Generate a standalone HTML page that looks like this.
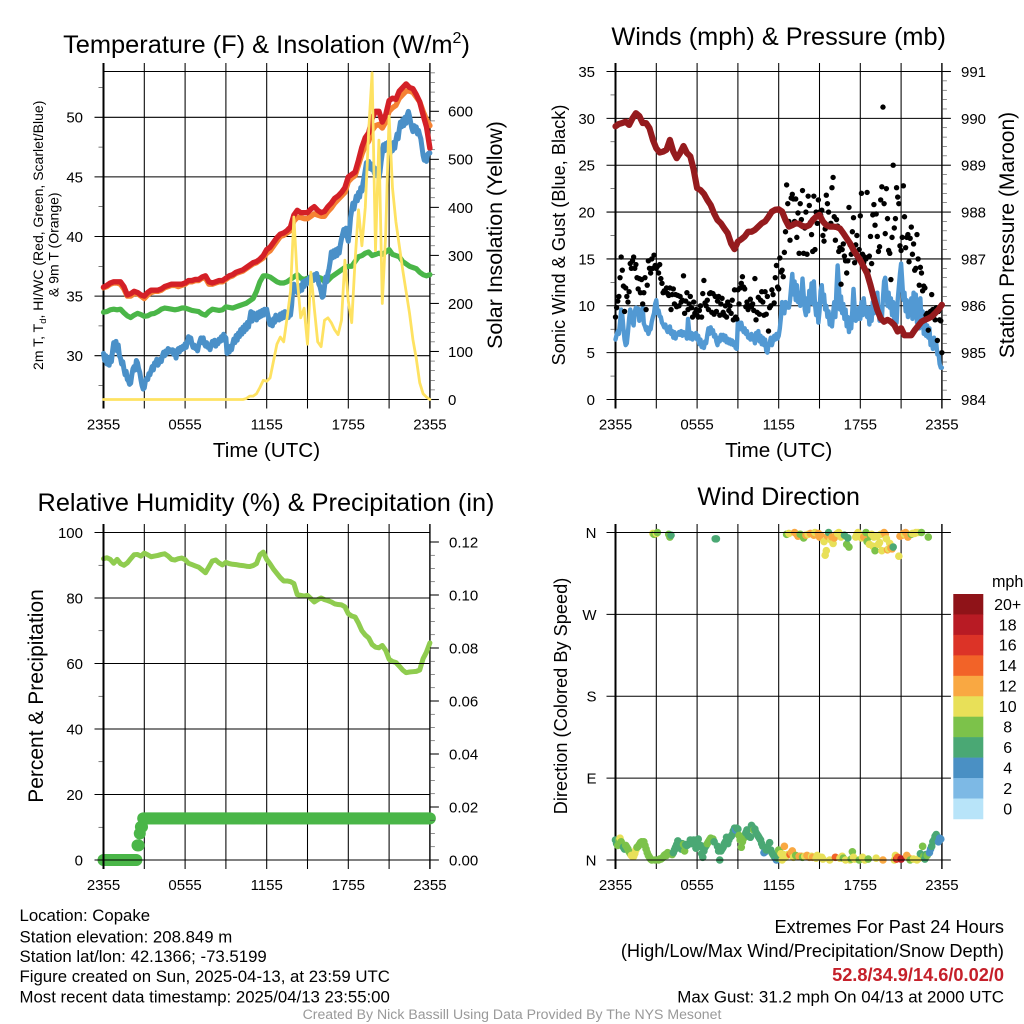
<!DOCTYPE html>
<html lang="en">
<head>
<meta charset="utf-8">
<title>Copake Mesonet Meteogram</title>
<style>
html,body{margin:0;padding:0;background:#fff;}
svg{display:block;font-family:"Liberation Sans",Arial,sans-serif;}
</style>
</head>
<body>
<svg id="chart" xmlns="http://www.w3.org/2000/svg" width="1024" height="1024" viewBox="0 0 1024 1024">
  <rect x="0" y="0" width="1024" height="1024" fill="#fff"/>
  <g id="layer"></g>

  <text x="266.5" y="53" font-size="25.4" text-anchor="middle">Temperature (F) &amp; Insolation (W/m<tspan dy="-10" font-size="16">2</tspan><tspan dy="10" font-size="25.4">)</tspan></text>
  <text x="778.7" y="45" font-size="25.3" text-anchor="middle">Winds (mph) &amp; Pressure (mb)</text>
  <text x="266" y="511" font-size="25.3" text-anchor="middle">Relative Humidity (%) &amp; Precipitation (in)</text>
  <text x="778.7" y="505" font-size="25" text-anchor="middle">Wind Direction</text>

  <text x="266.5" y="457" font-size="20.7" text-anchor="middle">Time (UTC)</text>
  <text x="778.7" y="457" font-size="20.7" text-anchor="middle">Time (UTC)</text>

  <text transform="translate(43,235.3) rotate(-90)" font-size="14" text-anchor="middle">2m T, T<tspan dy="3" font-size="9.5">d</tspan><tspan dy="-3">, HI/WC (Red, Green, Scarlet/Blue)</tspan></text>
  <text transform="translate(58.5,244.7) rotate(-90)" font-size="14" text-anchor="middle">&amp; 9m T (Orange)</text>
  <text transform="translate(502,235) rotate(-90)" font-size="21.3" text-anchor="middle">Solar Insolation (Yellow)</text>
  <text transform="translate(565,235) rotate(-90)" font-size="18.2" text-anchor="middle">Sonic Wind &amp; Gust (Blue, Black)</text>
  <text transform="translate(1014,235) rotate(-90)" font-size="21" text-anchor="middle">Station Pressure (Maroon)</text>
  <text transform="translate(43,696) rotate(-90)" font-size="21" text-anchor="middle">Percent &amp; Precipitation</text>
  <text transform="translate(567,696) rotate(-90)" font-size="18.2" text-anchor="middle">Direction (Colored By Speed)</text>

  <text x="19.5" y="921" font-size="16.8">Location: Copake</text>
  <text x="19.5" y="942.5" font-size="16.8">Station elevation: 208.849 m</text>
  <text x="19.5" y="962" font-size="16.8">Station lat/lon: 42.1366; -73.5199</text>
  <text x="19.5" y="982" font-size="16.8">Figure created on Sun, 2025-04-13, at 23:59 UTC</text>
  <text x="19.5" y="1002.5" font-size="16.8">Most recent data timestamp: 2025/04/13 23:55:00</text>

  <text x="1004" y="933" font-size="18.2" text-anchor="end">Extremes For Past 24 Hours</text>
  <text x="1004" y="957" font-size="18.2" text-anchor="end">(High/Low/Max Wind/Precipitation/Snow Depth)</text>
  <text x="1004" y="981" font-size="18.2" font-weight="bold" fill="#c5202a" text-anchor="end">52.8/34.9/14.6/0.02/0</text>
  <text x="1004" y="1002.5" font-size="16.9" text-anchor="end">Max Gust: 31.2 mph On 04/13 at 2000 UTC</text>
  <text x="512" y="1019" font-size="14.1" fill="#999" text-anchor="middle">Created By Nick Bassill Using Data Provided By The NYS Mesonet</text>
</svg>

<script>
// ---- time axis ----
const timeTicks = [0, 3, 6, 9, 12, 15, 18, 21, 24];
const timeLabels = ['2355', '', '0555', '', '1155', '', '1755', '', '2355'];

// ---- temperature panel ----
const tempTicks = [30, 35, 40, 45, 50];
const tempMinorTicks = [27.5, 32.5, 37.5, 42.5, 47.5, 52.5];
const solarTicks = [0, 100, 200, 300, 400, 500, 600];
const solarMinorTicks = [20,40,60,80,120,140,160,180,220,240,260,280,320,340,360,380,420,440,460,480,520,540,560,580,620,640,660,680];
const airTemp = [35.75,35.9,36.1,36.2,36.2,36.2,35.8,35.1,35.2,35.4,35.3,35.1,35.0,35.3,35.5,35.5,35.5,35.6,35.8,35.9,36.0,36.0,36.0,36.0,36.1,36.3,36.3,36.4,36.4,36.6,36.7,36.2,36.1,36.2,36.3,36.3,36.5,36.7,36.8,37.0,37.1,37.2,37.4,37.6,37.8,37.9,38.1,38.4,38.9,39.1,39.5,39.9,40.2,40.3,40.5,40.8,41.8,42.2,42.0,42.0,42.0,42.3,42.5,42.2,42.0,42.1,42.5,42.8,43.2,43.4,43.7,44.1,45.0,45.2,45.4,46.4,47.5,48.3,48.7,49.9,50.5,50.5,49.6,50.2,51.4,51.6,51.5,52.2,52.5,52.8,52.5,52.4,51.9,51.3,50.2,49.2,47.4];
const temp9m = [35.7,35.8,36.0,36.1,36.1,36.0,35.6,35.0,35.0,35.2,35.2,35.0,34.8,35.1,35.3,35.4,35.4,35.5,35.7,35.8,35.9,35.9,35.8,35.9,36.0,36.2,36.2,36.3,36.3,36.5,36.5,36.0,36.0,36.1,36.2,36.2,36.4,36.6,36.7,36.9,37.0,37.1,37.3,37.5,37.7,37.8,38.0,38.2,38.6,38.8,39.2,39.6,40.0,40.1,40.3,40.5,41.3,41.6,41.6,41.5,41.5,41.7,41.9,41.8,41.7,41.7,42.1,42.4,42.8,43.1,43.4,43.7,44.6,44.9,45.1,46.0,46.9,47.6,48.0,48.9,49.3,49.4,49.1,49.6,50.5,50.8,51.0,51.6,51.9,52.2,52.2,52.1,51.7,51.3,50.5,49.8,49.3];
const heatIndex = [33.65,33.7,33.85,33.9,33.85,33.9,33.6,33.35,33.2,33.4,33.55,33.45,33.3,33.35,33.5,33.55,33.7,33.9,34.0,33.95,33.9,33.85,33.9,34.0,34.0,33.9,33.8,33.75,33.7,33.5,33.4,33.7,33.9,33.85,33.8,33.85,34.1,34.05,34.0,34.1,34.2,34.3,34.4,34.6,34.8,35.4,36.2,36.7,36.7,36.6,36.4,36.2,36.1,36.1,36.2,36.4,36.6,36.8,36.5,36.4,36.5,36.6,36.6,36.6,36.5,36.2,36.3,36.6,36.8,37.0,37.2,37.4,37.5,37.5,37.9,38.3,38.4,38.6,38.7,38.4,38.5,38.6,38.5,38.7,38.9,38.5,38.4,38.3,37.9,37.7,37.5,37.4,37.3,37.0,36.8,36.7,36.8];
const dewPointByHour = [
 [30.2,29.6,30.0,29.3,29.6,29.2,29.9,29.5,30.4,31.1,30.5,31.2],
 [30.4,30.9,30.0,29.8,29.3,29.5,28.9,28.4,28.7,28.0,27.9,27.6],
 [27.7,28.4,28.9,29.1,28.8,29.6,29.4,28.9,28.6,28.0,27.5,27.2],
 [27.3,27.9,28.1,28.0,28.5,28.4,28.8,29.1,28.8,29.4,29.3,29.7],
 [29.2,29.4,29.7,29.5,30.0,30.3,30.0,30.4,30.2,30.6,30.3,30.5],
 [30.3,30.5,30.1,30.4,29.8,30.4,30.6,30.3,30.7,30.5,30.8,30.6],
 [31.0,30.7,31.2,31.6,31.2,31.5,31.0,30.7,30.9,30.6,30.7,30.4],
 [30.9,31.2,31.5,31.1,31.5,31.0,30.8,31.1,30.7,30.9,30.5,30.9],
 [31.2,30.9,31.3,30.8,31.2,31.0,31.4,31.2,31.6,31.3,31.8,31.6],
 [31.5,30.2,30.5,30.3,30.8,30.5,31.0,31.4,31.1,31.7,31.3,31.9],
 [31.6,32.2,31.8,32.4,32.0,32.6,32.2,32.8,32.4,33.1,33.7,32.9],
 [33.6,33.1,33.5,33.0,33.6,33.2,33.7,33.3,33.8,33.4,33.9,33.5],
 [33.9,33.4,33.0,32.6,32.9,32.5,33.1,32.8,33.4,33.0,33.3,33.0],
 [33.5,33.1,33.6,33.2,33.7,33.3,33.6,33.2,33.8,33.4,34.2,35.6],
 [36.0,35.4,35.8,35.3,35.7,35.4,35.9,35.5,36.2,35.8,36.3,36.0],
 [36.4,36.1,36.6,36.2,36.7,36.3,36.8,36.4,36.9,36.5,36.0,35.8],
 [35.4,34.9,35.0,35.8,36.6,36.2,36.9,37.3,37.9,38.7,38.2,38.8],
 [38.3,38.9,38.4,39.0,38.6,39.3,39.8,40.2,40.6,40.1,40.7,40.0],
 [39.6,40.4,41.6,42.2,42.8,42.3,42.9,43.4,43.0,43.7,43.3,44.1],
 [43.8,44.5,45.0,45.6,46.2,45.8,46.3,45.7,46.1,45.6,45.9,45.3],
 [45.7,45.1,45.5,44.9,45.4,46.3,47.0,47.7,47.2,47.8,47.3,47.9],
 [47.4,47.0,47.6,47.2,47.9,47.4,48.1,48.6,48.2,49.0,49.6,49.2],
 [49.8,49.3,50.0,49.5,50.2,50.5,50.1,49.6,49.1,48.8,49.3,48.9],
 [49.2,48.6,48.9,48.5,48.2,47.5,46.8,46.4,46.6,46.3,46.9,47.0],
 [47.0]
];
const solarInsolation = [0,0,0,0,0,0,0,0,0,0,0,0,0,0,0,0,0,0,0,0,0,0,0,0,0,0,0,0,0,0,0,0,0,0,0,0,0,0,0,0,0,0,2,7,7,12,25,40,38,45,80,115,130,120,170,225,380,250,170,190,115,265,190,120,110,165,170,160,145,135,165,290,205,160,290,395,320,400,560,680,310,540,200,345,590,440,370,320,270,225,180,125,85,35,12,5,0];

// ---- winds panel ----
const windTicks = [0, 5, 10, 15, 20, 25, 30, 35];
const windMinorTicks = [2.5, 7.5, 12.5, 17.5, 22.5, 27.5, 32.5];
const pressureTicks = [984, 985, 986, 987, 988, 989, 990, 991];
const pressureMinorTicks = [984.2,984.4,984.6,984.8,985.2,985.4,985.6,985.8,986.2,986.4,986.6,986.8,987.2,987.4,987.6,987.8,988.2,988.4,988.6,988.8,989.2,989.4,989.6,989.8,990.2,990.4,990.6,990.8];
const sonicWindByHour = [
 [6.4,6.9,7.3,7.0,8.2,9.6,9.0,7.6,6.4,5.8,6.0,7.2],
 [8.6,9.6,8.9,8.3,7.9,9.4,9.8,9.1,9.7,8.4,9.5,8.9],
 [9.8,8.1,7.8,7.4,7.7,7.0,7.4,7.5,8.3,8.8,9.2,10.2],
 [10.6,9.2,9.5,8.9,8.8,8.2,8.0,7.7,8.0,7.5,7.2,7.6],
 [7.8,7.0,7.3,6.6,7.2,6.5,7.0,6.9,7.2,6.9,7.3,6.8],
 [7.2,6.9,7.0,6.5,8.6,7.2,6.5,7.1,6.4,7.0,6.6,7.1],
 [6.4,6.8,5.9,6.4,5.6,6.0,5.5,6.2,6.0,6.9,7.6,7.0],
 [7.7,7.1,7.4,6.7,6.9,6.2,5.8,6.6,6.2,6.9,6.4,6.9],
 [6.3,6.8,6.1,6.5,6.0,6.4,5.9,6.3,5.8,6.1,5.5,5.4],
 [8.4,8.0,7.5,8.2,7.6,7.2,7.6,7.0,7.3,6.6,6.8,6.4],
 [7.0,6.4,6.8,6.0,7.1,6.4,7.3,6.2,6.8,5.9,6.6,5.8],
 [6.4,5.2,5.0,5.8,6.0,6.6,5.8,6.3,6.8,6.4,7.0,6.5],
 [6.8,7.6,8.8,10.4,10.0,9.2,10.4,9.8,10.2,9.8,10.6,12.0],
 [13.4,11.2,12.6,10.6,12.2,10.4,11.4,10.0,10.8,12.9,11.2,9.6],
 [9.0,10.8,9.4,11.6,10.4,12.4,10.2,12.6,10.2,9.0,10.2,8.2],
 [9.4,11.6,12.2,10.4,11.2,9.6,10.0,8.8,9.4,8.0,8.6,7.8],
 [9.2,10.4,8.8,11.8,14.3,12.4,9.6,11.0,9.2,10.2,8.6,9.6],
 [7.8,8.8,7.2,8.4,7.6,9.6,11.8,9.8,8.4,9.6,8.6,9.8],
 [8.6,10.4,9.0,10.8,9.6,9.2,8.8,9.8,8.0,9.2,8.4,10.4],
 [9.2,11.2,9.6,11.4,9.4,8.4,9.8,8.6,10.8,12.6,13.0,11.6],
 [10.0,11.4,9.8,10.8,9.0,10.4,8.6,9.4,8.2,10.6,12.0,13.4],
 [14.5,12.6,10.6,11.4,9.4,10.6,8.8,10.2,9.0,10.8,8.6,11.4],
 [9.4,11.2,8.2,10.4,7.6,10.8,8.2,9.4,7.0,8.2,6.8,7.9],
 [6.6,7.6,5.8,6.4,5.4,6.6,5.8,6.0,4.8,5.0,3.8,3.4],
 [3.4]
];
const stationPressure = [989.83,989.88,989.90,989.93,989.86,990.00,990.11,990.05,989.90,989.90,989.79,989.54,989.36,989.27,989.29,989.33,989.54,989.29,989.15,989.26,989.41,989.26,989.19,988.90,988.51,988.47,988.39,988.26,988.15,987.97,987.83,987.76,987.65,987.55,987.33,987.21,987.37,987.42,987.48,987.58,987.58,987.62,987.69,987.76,987.80,987.90,988.01,988.05,988.06,988.01,987.83,987.69,987.72,987.76,987.75,987.70,987.69,987.72,987.83,987.90,987.94,987.80,987.72,987.69,987.69,987.68,987.65,987.55,987.44,987.33,987.19,987.08,986.97,986.83,986.69,986.44,986.16,985.91,985.73,985.66,985.70,985.66,985.59,985.45,985.52,985.37,985.37,985.37,985.48,985.57,985.66,985.70,985.73,985.77,985.84,985.92,986.02];
const gustByHour = [
 [8.8,9.8,10.5,11,13,15.2,13.8,12.1,9.4,11.9,11,10.4],
 [11.5,14.5,14.0,14.8,15.2,14.0,14.4,13.0,11.8,12.9,11.4,12.8],
 [10.2,11.4,13.0,9.6,12.2,14.8,14.0,13.5,15.0,14.0,15.4,14.3],
 [14.0,14.2,13.5,14.4,12.9,12.4,11.4,11.6,11.5,11.9,11.3,11.1],
 [11.9,9.6,11.2,11.8,10.2,11.2,9.9,11.1,10.0,11.0,10.4,10.6],
 [13.2,9.2,10.5,11.4,9.6,10.2,11.0,9.8,8.8,10.4,9.2,9.6],
 [9.0,8.8,9.5,10.0,8.8,11.3,12.7,10.3,10.0,10.6,9.6,11.3],
 [11.4,9.3,11.3,9.1,11.0,9.4,10.5,11.0,9.0,10.2,10.8,9.3],
 [9.0,10.0,8.8,10.4,9.5,10.0,9.2,10.6,8.5,11.7,8.8,8.6],
 [11.7,10.2,11.9,12.4,13.1,12.0,11.8,9.9,10.4,9.6,10.0,10.7],
 [9.9,10.2,9.5,12.9,8.5,9.3,10.9,9.1,10.6,11.5,10.4,9.0],
 [11.5,9.1,11.0,7.3,9.8,10.0,11.7,11.2,10.3,13.0,14.3,12.0],
 [11.8,15.1,13.6,13.8,13.1,15.7,17.9,22.9,20.9,19,17,21.5],
 [21.9,21.4,19,21.4,17.3,19.9,15.6,20.9,19.2,22.3,15.6,18.3],
 [20,15.5,21.7,20.7,18.9,17.6,15.8,21.7,16,20.0,18.8,21.3],
 [20.0,19.7,20.2,17.5,16.9,18.2,21.8,20.9,20,18.5,18.8,22.6],
 [23.7,19.5,17,19.2,18.5,15.8,16.2,12.3,16,16.6,15.3,14.8],
 [13.5,14.8,20.5,16.5,15.5,17.9,19.4,14.6,16.5,17.5,15,16.0],
 [19.6,22,15.5,14.6,15.2,15.0,22.1,13.7,15.3,17.4,14.5,19.7],
 [20.8,18.6,19.8,17.4,15.8,16.3,21.3,22.7,31.2,20.9,17.7,22.5],
 [19.3,15.9,15.6,12.8,17.3,25,18.3,19.3,22.6,21.6,20.9,16.4],
 [15.9,17.3,22.8,19.5,16.2,17.3,17.6,14.7,17.2,18.4,15.5,16.6],
 [13.8,14,17.6,15,12.2,14.1,13.5,11.6,12.1,11.9,9.0,9.2],
 [7.4,9.2,9.4,11.2,9.6,9.0,8.5,9.8,6.3,9.4,8.5,8.4],
 [5]
];

// ---- humidity panel ----
const humidityTicks = [0, 20, 40, 60, 80, 100];
const humidityMinorTicks = [10, 30, 50, 70, 90];
const precipTicks = [0, 0.02, 0.04, 0.06, 0.08, 0.10, 0.12];
const precipLabels = ['0.00', '0.02', '0.04', '0.06', '0.08', '0.10', '0.12'];
const precipMinorTicks = [0.005,0.01,0.015,0.025,0.03,0.035,0.045,0.05,0.055,0.065,0.07,0.075,0.085,0.09,0.095,0.105,0.11,0.115];
const relativeHumidity = [92,92.3,91.8,90.6,91.8,90.5,90.0,90.7,92,93.2,93.3,92.8,93.7,93.2,92.6,92.8,93.0,93.3,93.5,92.8,91.8,91.6,92.0,92.2,91.7,90.6,90.2,89.8,89.4,88.6,87.7,89.5,91.3,91.6,90.7,90.1,90.9,90.5,90.3,90.2,90.0,89.9,89.7,89.6,89.9,90.5,93.2,94.0,91.8,90.4,88.8,87.5,86.2,85.2,85.2,85.0,84.4,81.0,80.8,80.6,80.8,79.8,78.8,79.5,80.0,79.5,79.2,78.8,78.2,78.0,77.9,77.3,75.2,74.5,74.2,72.3,70.0,68.7,67.8,65.8,65.0,64.8,65.5,64.0,61.3,60.6,60.3,59.2,58.0,57.2,57.4,57.5,57.6,58.0,61.5,63.5,66.3];
const precipByHour = [
 [0,0,0,0,0,0,0,0,0,0,0,0],
 [0,0,0,0,0,0,0,0,0,0,0,0],
 [0,0,0,0,0,0,0.0055,0.0055,0.0100,0.0125,0.0125,0.0157],
 [0.0157,0.0157,0.0157,0.0157,0.0157,0.0157,0.0157,0.0157,0.0157,0.0157,0.0157,0.0157],
 [0.0157,0.0157,0.0157,0.0157,0.0157,0.0157,0.0157,0.0157,0.0157,0.0157,0.0157,0.0157],
 [0.0157,0.0157,0.0157,0.0157,0.0157,0.0157,0.0157,0.0157,0.0157,0.0157,0.0157,0.0157],
 [0.0157,0.0157,0.0157,0.0157,0.0157,0.0157,0.0157,0.0157,0.0157,0.0157,0.0157,0.0157],
 [0.0157,0.0157,0.0157,0.0157,0.0157,0.0157,0.0157,0.0157,0.0157,0.0157,0.0157,0.0157],
 [0.0157,0.0157,0.0157,0.0157,0.0157,0.0157,0.0157,0.0157,0.0157,0.0157,0.0157,0.0157],
 [0.0157,0.0157,0.0157,0.0157,0.0157,0.0157,0.0157,0.0157,0.0157,0.0157,0.0157,0.0157],
 [0.0157,0.0157,0.0157,0.0157,0.0157,0.0157,0.0157,0.0157,0.0157,0.0157,0.0157,0.0157],
 [0.0157,0.0157,0.0157,0.0157,0.0157,0.0157,0.0157,0.0157,0.0157,0.0157,0.0157,0.0157],
 [0.0157,0.0157,0.0157,0.0157,0.0157,0.0157,0.0157,0.0157,0.0157,0.0157,0.0157,0.0157],
 [0.0157,0.0157,0.0157,0.0157,0.0157,0.0157,0.0157,0.0157,0.0157,0.0157,0.0157,0.0157],
 [0.0157,0.0157,0.0157,0.0157,0.0157,0.0157,0.0157,0.0157,0.0157,0.0157,0.0157,0.0157],
 [0.0157,0.0157,0.0157,0.0157,0.0157,0.0157,0.0157,0.0157,0.0157,0.0157,0.0157,0.0157],
 [0.0157,0.0157,0.0157,0.0157,0.0157,0.0157,0.0157,0.0157,0.0157,0.0157,0.0157,0.0157],
 [0.0157,0.0157,0.0157,0.0157,0.0157,0.0157,0.0157,0.0157,0.0157,0.0157,0.0157,0.0157],
 [0.0157,0.0157,0.0157,0.0157,0.0157,0.0157,0.0157,0.0157,0.0157,0.0157,0.0157,0.0157],
 [0.0157,0.0157,0.0157,0.0157,0.0157,0.0157,0.0157,0.0157,0.0157,0.0157,0.0157,0.0157],
 [0.0157,0.0157,0.0157,0.0157,0.0157,0.0157,0.0157,0.0157,0.0157,0.0157,0.0157,0.0157],
 [0.0157,0.0157,0.0157,0.0157,0.0157,0.0157,0.0157,0.0157,0.0157,0.0157,0.0157,0.0157],
 [0.0157,0.0157,0.0157,0.0157,0.0157,0.0157,0.0157,0.0157,0.0157,0.0157,0.0157,0.0157],
 [0.0157,0.0157,0.0157,0.0157,0.0157,0.0157,0.0157,0.0157,0.0157,0.0157,0.0157,0.0157],
 [0.0157]
];

// ---- wind direction panel ----
const directionTicks = [0, 90, 180, 270, 360];
const directionLabels = ['N', 'E', 'S', 'W', 'N'];
const directionByHour = [
 [22,18,16,22,24,20,16,14,12,16,14,12],
 [9,7,5,4,4,7,11,14,15,17,19,20],
 [18,20,16,12,8,5,3,1,0,359,358,0],
 [359,360,0,1,1,2,3,5,6,5,8,358],
 [355,357,6,8,11,14,17,21,19,15,12,18],
 [17,10,17,16,17,18,22,18,20,22,18,13],
 [21,23,15,16,7,3,10,14,16,18,20,22],
 [24,23,23,20,353,353,15,10,0,10,12,14],
 [18,20,25,18,22,25,26,28,32,35,33,35],
 [34,27,22,14,20,26,25,30,33,27,26,25],
 [38,36,33,34,30,28,26,24,22,18,15,8],
 [9,11,14,12,19,11,8,6,4,2,0,2],
 [11,9,7,0,6,15,3,358,6,359,6,8],
 [10,3,360,5,358,356,4,358,4,3,354,4],
 [357,5,358,3,359,4,3,357,360,2,5,359],
 [355,357,3,1,350,335,340,356,360,0,352,355],
 [348,354,3,358,359,360,2,355,4,2,357,0],
 [347,354,344,0,1,9,3,1,355,358,360,0],
 [357,354,3,355,0,360,350,1,347,356,358,345],
 [355,340,2,356,347,349,358,340,0,360,358,353],
 [341,342,348,343,342,344,0,5,1,3,334,356],
 [1,357,359,358,360,5,355,2,0,358,359,1],
 [359,360,0,360,2,7,360,15,4,1,6,5],
 [355,8,12,15,20,22,26,28,25,20,24,23]
];
const speedByHour = [
 [6,6,8,8,10,8,8,6,6,8,8,8],
 [8,8,10,10,10,10,10,8,8,8,8,8],
 [8,8,8,8,8,8,8,8,8,10,8,8],
 [10,8,8,8,8,8,8,8,8,8,8,8],
 [8,6,8,6,6,6,6,6,6,6,6,6],
 [8,8,6,6,6,6,6,6,6,6,6,6],
 [6,6,6,6,6,6,6,6,6,8,8,8],
 [8,8,8,6,6,6,6,6,6,6,6,6],
 [6,6,6,6,6,6,6,6,6,6,4,6],
 [6,8,8,8,8,8,8,6,6,6,6,6],
 [6,6,8,6,6,6,6,6,6,6,6,4],
 [4,6,6,6,6,6,6,6,6,6,4,6],
 [8,8,10,10,10,12,10,8,10,10,14,12],
 [12,10,12,8,12,12,12,8,12,8,8,10],
 [12,12,10,12,12,10,12,12,10,10,10,12],
 [12,12,10,10,10,10,10,12,6,10,10,12],
 [10,12,14,12,10,10,10,10,10,8,6,10],
 [8,6,8,10,8,8,10,10,10,10,10,8],
 [10,10,10,12,10,8,8,8,10,8,10,10],
 [10,8,10,10,10,10,10,10,12,12,12,10],
 [12,10,10,12,12,6,10,10,16,14,10,12],
 [18,12,12,10,12,12,12,12,8,8,10,10],
 [10,10,10,10,10,6,8,8,8,6,6,8],
 [8,4,4,6,6,6,6,6,6,4,4,4]
];
const legendLabels = ['20+', '18', '16', '14', '12', '10', '8', '6', '4', '2', '0'];
const speedColors = ['#b8e4f9', '#7db9e5', '#4a90c4', '#4aa874', '#7cc24a', '#e8e058', '#f9a842', '#f26328', '#dc3327', '#b81b24', '#8f1318'];

// ---- scales and geometry ----
const layer = document.getElementById('layer');
const SVGNS = 'http://www.w3.org/2000/svg';
function linear(d0, d1, r0, r1) { return v => r0 + (v - d0) * (r1 - r0) / (d1 - d0); }
const PLOT_W = 326.4;
const leftX0 = 103.5, rightX0 = 615.5;
const topY0 = 71.5, topY1 = 399.5, botY0 = 532.5, botY1 = 860;
const xLeft = linear(0, 24, leftX0, leftX0 + PLOT_W);
const xRight = linear(0, 24, rightX0, rightX0 + PLOT_W);
const tempY = linear(30, 50, 355.7, 117.3);
const solarY = linear(0, 600, topY1, 111.3);
const windY = linear(0, 35, topY1, topY0);
const pressureY = linear(984, 991, topY1, topY0);
const humidityY = linear(0, 100, botY1, botY0);
const precipY = linear(0, 0.12, botY1, 542);
const directionY = linear(0, 360, botY1, botY0);

function drawLine(name, x1, y1, x2, y2, width, color) {
  const el = document.createElementNS(SVGNS, 'line');
  
  
  el.setAttribute('x1', x1);
  el.setAttribute('y1', y1);
  el.setAttribute('x2', x2);
  el.setAttribute('y2', y2);
  el.setAttribute('stroke', color);
  el.setAttribute('stroke-width', width);
  layer.appendChild(el);
}
function drawText(name, x, y, str, size, anchor) {
  const el = document.createElementNS(SVGNS, 'text');
  
  
  el.setAttribute('x', x);
  el.setAttribute('y', y);
  el.setAttribute('font-size', size);
  el.setAttribute('text-anchor', anchor);
  el.textContent = str;
  layer.appendChild(el);
}
function drawSeries(name, values, xs, ys, width, color) {
  const stepHours = 24 / (values.length - 1);
  const d = values.map((v, i) => (i ? 'L' : 'M') + xs(i * stepHours).toFixed(2) + ' ' + ys(v).toFixed(2)).join('');
  const el = document.createElementNS(SVGNS, 'path');
  
  
  el.setAttribute('d', d);
  el.setAttribute('fill', 'none');
  el.setAttribute('stroke', color);
  el.setAttribute('stroke-width', width);
  el.setAttribute('stroke-linejoin', 'round');
  el.setAttribute('stroke-linecap', 'round');
  layer.appendChild(el);
}
function drawDot(name, x, y, r, color) {
  const el = document.createElementNS(SVGNS, 'circle');
  
  
  el.setAttribute('cx', x.toFixed(2));
  el.setAttribute('cy', y.toFixed(2));
  el.setAttribute('r', r);
  el.setAttribute('fill', color);
  layer.appendChild(el);
}
function drawVerticalGrid(prefix, xs, y0, y1) {
  timeTicks.forEach((t, i) => {
    drawLine(prefix + '-time-gridline', xs(t), y0 - 8.5, xs(t), y1 + 9, (i === 0) ? 2 : (i === timeTicks.length - 1 ? 1.4 : 1.05), '#000');
    if (timeLabels[i]) drawText(prefix + '-time-label', xs(t), y1 + 30, timeLabels[i], 15, 'middle');
  });
}
function drawHorizontalFrame(prefix, xs, y0, y1) {
  drawLine(prefix + '-top-border', xs(0), y0, xs(24), y0, 1.05, '#000');
  drawLine(prefix + '-bottom-border', xs(0), y1, xs(24), y1, 1.05, '#000');
}
function drawLeftTicks(prefix, xs, ticks, minor, ys, labelFn) {
  const x0 = xs(0), x1 = xs(24);
  ticks.forEach(t => {
    drawLine(prefix + '-left-gridline', x0 - 9, ys(t), x1, ys(t), 1.05, '#000');
    drawText(prefix + '-left-tick-label', x0 - 20.5, ys(t) + 5.4, labelFn(t), 15, 'end');
  });
  minor.forEach(t => {
    drawLine(prefix + '-left-minor-tick', x0 - 5, ys(t), x0, ys(t), 0.6, '#222');
  });
}
function drawRightTicks(prefix, xs, ticks, labels, minor, ys, labelX) {
  const x1 = xs(24);
  ticks.forEach((t, i) => {
    drawLine(prefix + '-right-major-tick', x1, ys(t), x1 + 9, ys(t), 1.05, '#000');
    drawText(prefix + '-right-tick-label', labelX, ys(t) + 5.4, labels[i], 15, 'start');
  });
  minor.forEach(t => {
    drawLine(prefix + '-right-minor-tick', x1, ys(t), x1 + 5, ys(t), 0.6, '#444');
  });
}

// ---- panel 1: temperature & insolation ----
drawVerticalGrid('temperature', xLeft, topY0, topY1);
drawHorizontalFrame('temperature', xLeft, topY0, topY1);
drawLeftTicks('temperature', xLeft, tempTicks, tempMinorTicks, tempY, String);
drawRightTicks('solar', xLeft, solarTicks, solarTicks.map(String), solarMinorTicks, solarY, 448);
drawSeries('nine-meter-temperature-line', temp9m, xLeft, tempY, 5.4, '#f58233');
drawSeries('air-temperature-line', airTemp, xLeft, tempY, 5.4, '#d42027');
drawSeries('heat-index-line', heatIndex, xLeft, tempY, 5.2, '#4ab648');
drawSeries('dew-point-line', dewPointByHour.flat(), xLeft, tempY, 5, '#4a90c8');
drawSeries('solar-insolation-line', solarInsolation, xLeft, solarY, 2.8, '#fee262');

// ---- panel 2: winds & pressure ----
drawVerticalGrid('winds', xRight, topY0, topY1);
drawHorizontalFrame('winds', xRight, topY0, topY1);
drawLeftTicks('winds', xRight, windTicks, windMinorTicks, windY, String);
drawRightTicks('pressure', xRight, pressureTicks, pressureTicks.map(String), pressureMinorTicks, pressureY, 961);
drawSeries('sonic-wind-line', sonicWindByHour.flat(), xRight, windY, 4.4, '#5299d3');
gustByHour.forEach((row, h) => {
  row.forEach((v, j) => {
    drawDot('wind-gust-point', xRight(h + j / 12), windY(v), 2.7, '#000');
  });
});
drawSeries('station-pressure-line', stationPressure, xRight, pressureY, 6.2, '#951b1e');

// ---- panel 3: relative humidity & precipitation ----
drawVerticalGrid('humidity', xLeft, botY0, botY1);
precipByHour.forEach((row, h) => {
  row.forEach((v, j) => {
    drawDot('precipitation-point', xLeft(h + j / 12), precipY(v), 6, '#4ab648');
  });
});
drawSeries('relative-humidity-line', relativeHumidity, xLeft, humidityY, 5, '#8fcc4f');
drawHorizontalFrame('humidity', xLeft, botY0, botY1);
drawLeftTicks('humidity', xLeft, humidityTicks, humidityMinorTicks, humidityY, String);
drawRightTicks('precipitation', xLeft, precipTicks, precipLabels, precipMinorTicks, precipY, 449);
drawLine('humidity-left-axis', xLeft(0), botY0 - 8.5, xLeft(0), botY1 + 9, 2, '#000');

// ---- panel 4: wind direction ----
drawVerticalGrid('direction', xRight, botY0, botY1);
directionByHour.forEach((row, h) => {
  row.forEach((deg, j) => {
    const bin = Math.min(10, Math.floor(speedByHour[h][j] / 2));
    drawDot('wind-direction-point', xRight(h + j / 12), directionY(deg), 3.8, speedColors[bin]);
  });
});
directionTicks.forEach((t, i) => {
  drawLine('direction-gridline', xRight(0) - 9, directionY(t), xRight(24) + 9, directionY(t), 1.05, '#000');
  drawText('direction-tick-label', xRight(0) - 19, directionY(t) + 5.4, directionLabels[i], 15, 'end');
});

// ---- colour legend ----
const LEG_X = 953.3, LEG_W = 30, LEG_TOP = 594, LEG_STEP = 20.45;
drawText('legend-unit-label', 1007.7, 587, 'mph', 16.2, 'middle');
legendLabels.forEach((label, i) => {
  const el = document.createElementNS(SVGNS, 'rect');
  
  
  el.setAttribute('x', LEG_X);
  el.setAttribute('y', LEG_TOP + i * LEG_STEP);
  el.setAttribute('width', LEG_W);
  el.setAttribute('height', LEG_STEP + 0.3);
  el.setAttribute('fill', speedColors[10 - i]);
  layer.appendChild(el);
  drawText('legend-label', 1007.7, LEG_TOP + (i + 0.5) * LEG_STEP + 5.6, label, 16, 'middle');
});
</script>
</body>
</html>
